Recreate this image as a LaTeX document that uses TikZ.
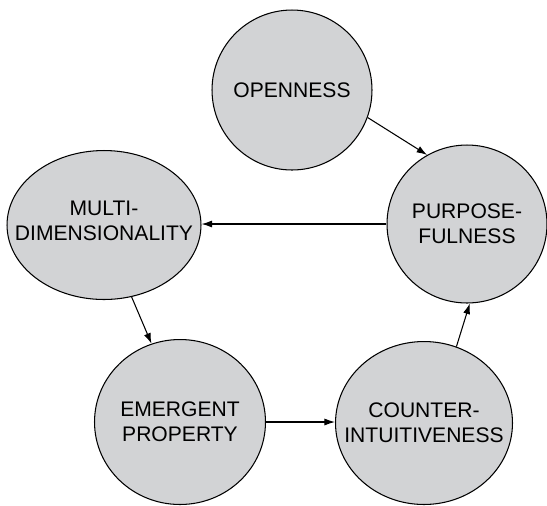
\documentclass[tikz,border=0pt]{standalone}
\usepackage{fontspec}
\setmainfont{Liberation Sans}
\usetikzlibrary{shapes.geometric,arrows.meta}
\definecolor{bubblegray}{RGB}{210,211,213}

\begin{document}
\begin{tikzpicture} [x = 0.02cm, y = -0.02cm,
  stage/.style = {ellipse, draw = black, line width = 0.6pt, fill = bubblegray,
    inner sep = 0pt},
  every label/.style = {align = center, font = \fontsize{12}{14}\selectfont},
  link/.style = {-{Latex[length=6pt,width=4pt]}, line width = 0.6pt}]
\useasboundingbox (0, 0) rectangle (547, 505);
\node[stage, minimum width = 3.2cm, minimum height = 3.2cm,
  label = {center:OPENNESS}] (open) at (292, 90){};
\node[stage, minimum width = 3.2cm, minimum height = 3.16cm,
  label = {center:PURPOSE-\\FULNESS}] (purp) at (467, 224){};
\node[stage, minimum width = 3.88cm, minimum height = 2.98cm,
  label = {[yshift = 0.08cm]center:MULTI-\\DIMENSIONALITY}] (multi) at (104, 225){};
\node[stage, minimum width = 3.42cm, minimum height = 3.3cm,
  label = {center:EMERGENT\\PROPERTY}] (emerg) at (180, 422){};
\node[stage, minimum width = 3.54cm, minimum height = 3.26cm,
  label = {center:COUNTER-\\INTUITIVENESS}] (counter) at (424, 423){};
\draw[link] (open.-20) -- (purp.120);
\draw[link] (purp.west) -- (purp.west -| multi.east);
\draw[link] (multi.-69) -- (emerg.110);
\draw[link] (emerg.east) -- (emerg.east -| counter.west);
\draw[link] (counter.67) -- (purp.-88);
\end{tikzpicture}
\end{document}
